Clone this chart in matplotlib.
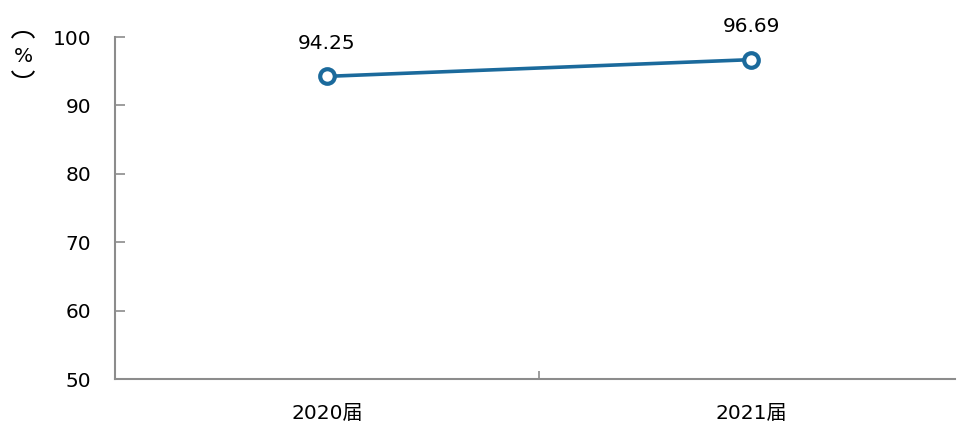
import numpy as np
import matplotlib
matplotlib.use('Agg')
import matplotlib.pyplot as plt
from matplotlib.lines import Line2D

plt.rcParams['font.family'] = ['DejaVu Sans', 'Noto Sans CJK SC']

categories = ['2020届', '2021届']
values = [94.25, 96.69]
y_ticks = [50, 60, 70, 80, 90, 100]

line_color = '#1B6A9C'
axis_color = '#8C8C8C'

fig = plt.figure(figsize=(9.6, 4.26), dpi=100)
ax = fig.add_axes([115 / 960, 0.1103, 840 / 960, 0.8028])

x = list(range(len(categories)))
ax.plot(x, values, color=line_color, linewidth=2.6, marker='o', markersize=10.5,
        markerfacecolor='white', markeredgecolor=line_color, markeredgewidth=3,
        zorder=3)
for xi, v in zip(x, values):
    ax.annotate(f'{v:.2f}', (xi, v), xytext=(0, 24), textcoords='offset points',
                ha='center', va='center', fontsize=14.5, color='#000000')

ax.set_xlim(-0.5, 1.481)
ax.set_ylim(50, 100)
ax.set_yticks(y_ticks)
ax.set_yticklabels([str(t) for t in y_ticks], fontsize=14.5)
ax.tick_params(axis='y', direction='in', length=7, width=1.2, color=axis_color, pad=17)

# category labels without ticks, one tick between categories
ax.set_xticks([0.5])
ax.set_xticklabels([''])
ax.tick_params(axis='x', direction='in', length=6, width=1.2, color=axis_color)
for xi, c in zip(x, categories):
    ax.text(xi, -0.1, c, transform=ax.get_xaxis_transform(), ha='center', va='center',
            fontsize=14.5)

for side in ['top', 'right']:
    ax.spines[side].set_visible(False)
for side in ['left', 'bottom']:
    ax.spines[side].set_color(axis_color)
    ax.spines[side].set_linewidth(1.5)


# vertical unit label: bracket arcs above and below the percent sign (pixel units)
def bracket(cx, cy, upper):
    t = np.linspace(np.radians(15), np.radians(165), 40)
    if not upper:
        t = t + np.pi
    px = cx + 11 * np.cos(t)
    py = (426 - cy) + 7 * np.sin(t)
    fig.add_artist(Line2D(px / 100, py / 100, transform=fig.dpi_scale_trans,
                          color='black', linewidth=1.4))


bracket(23, 39, True)
fig.text(23 / 960, 1 - 57 / 426, '%', ha='center', va='center', fontsize=14.5)
bracket(23, 70, False)

fig.savefig('out.png', dpi=100)
